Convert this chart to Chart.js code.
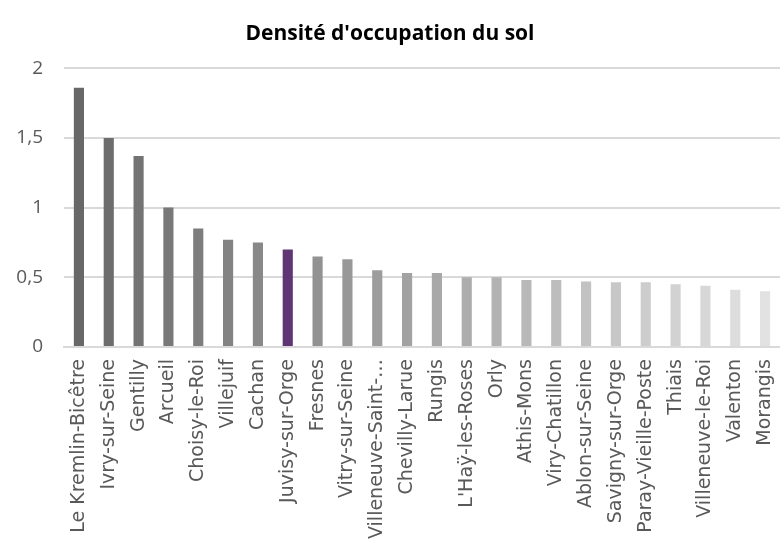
<!DOCTYPE html>
<html>
<head>
<meta charset="utf-8">
<script src="https://cdn.jsdelivr.net/npm/chart.js@4.4.0/dist/chart.umd.min.js"></script>
<style>
    html, body { margin: 0; padding: 0; background: #ffffff; }
    #wrap { width: 780px; height: 543px; position: relative; }
</style>
</head>
<body>
<div id="wrap"><canvas id="densityChart"></canvas></div>
<script>
const communes = [
    "Le Kremlin-Bicêtre", "Ivry-sur-Seine", "Gentilly", "Arcueil", "Choisy-le-Roi",
    "Villejuif", "Cachan", "Juvisy-sur-Orge", "Fresnes", "Vitry-sur-Seine",
    "Villeneuve-Saint-…", "Chevilly-Larue", "Rungis", "L'Haÿ-les-Roses", "Orly",
    "Athis-Mons", "Viry-Chatillon", "Ablon-sur-Seine", "Savigny-sur-Orge",
    "Paray-Vieille-Poste", "Thiais", "Villeneuve-le-Roi", "Valenton", "Morangis"
];
const densite = [
    1.86, 1.50, 1.37, 1.00, 0.85,
    0.77, 0.75, 0.70, 0.65, 0.63,
    0.55, 0.53, 0.53, 0.50, 0.50,
    0.48, 0.48, 0.47, 0.465,
    0.465, 0.45, 0.44, 0.41, 0.40
];
const highlighted = "Juvisy-sur-Orge";
const yTicks = [0, 0.5, 1, 1.5, 2];

// grey ramp from dark to light, highlighted commune in purple
function barColor(i, n) {
    if (communes[i] === highlighted) return "#603573";
    const t = i / (n - 1);
    const v = Math.round(104 + t * (226 - 104));
    return `rgb(${v}, ${v}, ${v})`;
}

const ctx = document.getElementById("densityChart").getContext("2d");
new Chart(ctx, {
    type: "bar",
    data: {
        labels: communes,
        datasets: [{
            label: "Densité",
            data: densite,
            backgroundColor: communes.map((c, i) => barColor(i, communes.length)),
            barPercentage: 0.34,
            categoryPercentage: 1
        }]
    },
    options: {
        responsive: true,
        maintainAspectRatio: false,
        animation: false,
        layout: { padding: { left: 0, right: 0, top: 0, bottom: 0 } },
        plugins: {
            legend: { display: false },
            tooltip: { enabled: false },
            title: {
                display: true,
                text: "Densité d'occupation du sol",
                color: "#000000",
                font: { family: "Open Sans", size: 21, weight: "bold" },
                padding: { top: 21, bottom: 22 }
            }
        },
        scales: {
            x: {
                afterFit: axis => { axis.paddingLeft = 0; axis.paddingRight = 0; },
                grid: { display: false },
                border: { color: "#d9d9d9", width: 2 },
                ticks: {
                    color: "#595959",
                    font: { family: "DejaVu Sans", size: 19 },
                    maxRotation: 90,
                    minRotation: 90,
                    autoSkip: false,
                    padding: 4
                }
            },
            y: {
                min: 0,
                max: 2,
                afterBuildTicks: axis => { axis.ticks = yTicks.map(v => ({ value: v })); },
                afterFit: axis => { axis.width = 64; },
                grid: { color: "#d9d9d9", lineWidth: 2, drawTicks: false },
                border: { display: false },
                ticks: {
                    color: "#595959",
                    font: { family: "Open Sans", size: 19 },
                    padding: 21,
                    callback: v => String(v).replace(".", ",")
                }
            }
        }
    }
});
</script>
</body>
</html>
